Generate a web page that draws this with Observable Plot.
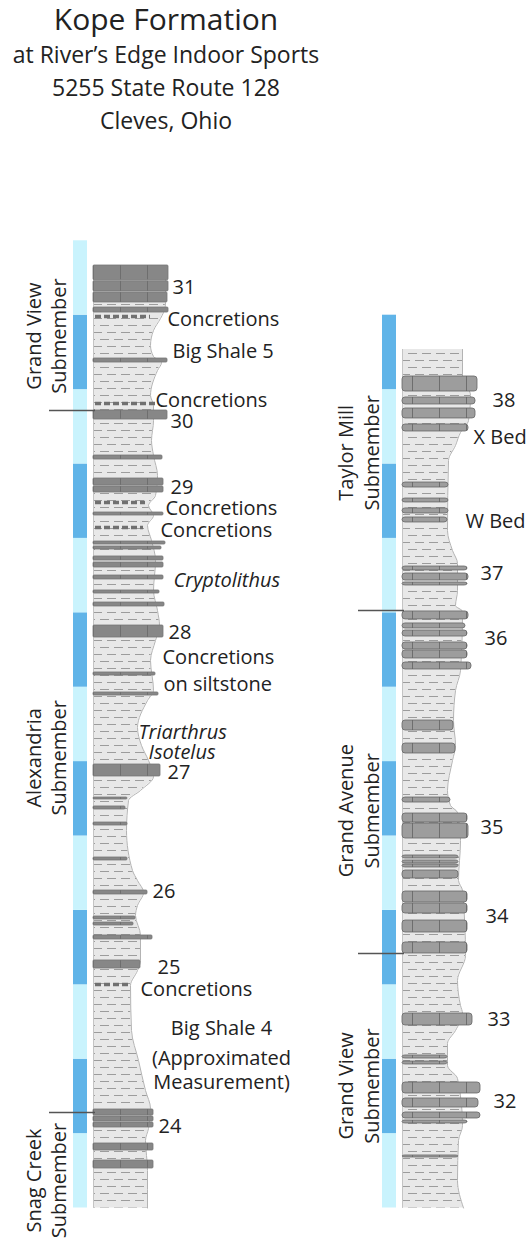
<!DOCTYPE html>
<html><head><meta charset="utf-8">
<script src="https://cdn.jsdelivr.net/npm/d3@7"></script>
<script src="https://cdn.jsdelivr.net/npm/@observablehq/plot@0.6"></script>
<style>
body{margin:0;background:#fff;font-family:"Open Sans",sans-serif;color:#222}
#title{height:140px;width:332px;text-align:center;overflow:visible}
#title div{white-space:nowrap}
.t1{font-size:30px;line-height:37.5px}
.t2{font-size:23px;line-height:33px}
</style></head><body>
<div id="title"><div class="t1">Kope Formation</div><div class="t2">at River’s Edge Indoor Sports</div><div class="t2">5255 State Route 128</div><div class="t2">Cleves, Ohio</div></div>
<div id="chart"></div>
<script>
// ---------- data (metres above base of each column) ----------
const leftMeters = [0,1,2,3,4,5,6,7,8,9,10,11,12];
const rightMeters = [0,1,2,3,4,5,6,7,8,9,10,11];

// weathering profile of shale: [metre, profile width]
const leftProfile = [
[12.668,72],[12.171,72],[12.036,70],[11.956,67],[11.795,60],[11.593,57],[11.445,60],[11.364,68],[11.257,64],
[10.921,57],[10.786,60],[10.585,60],[10.316,58],[10.114,60],[9.845,64],[9.577,62],[9.442,55],[9.308,60],
[9.173,54],[8.972,58],[8.703,62],[8.300,60],[8.031,64],[7.829,66],[7.628,62],[7.359,57],[6.956,60],[6.821,54],
[6.458,44],[6.216,48],[6.015,55],[5.800,60],[5.612,47],[5.477,35],[5.074,33],[4.536,39],[4.402,44],[4.241,50],
[4.066,44],[3.932,42],[3.663,47],[3.327,47],[3.192,44],[2.991,37],[2.386,38],[1.983,45],[1.579,52],[1.337,57],
[1.069,55],[0.907,52],[0.504,54],[0,54]];
const rightProfile = [
[11.539,60],[11.176,60],[10.921,68],[10.585,66],[10.424,58],[10.249,53],[10.047,46],[9.106,45],[8.837,50],
[8.663,55],[8.300,55],[8.098,53],[8.018,60],[7.225,58],[6.956,53],[6.552,51],[6.216,53],[6.015,50],[5.612,45],
[5.410,48],[5.316,55],[4.940,58],[4.402,56],[4.267,60],[3.394,63],[3.058,55],[2.722,58],[2.614,60],[2.386,53],
[2.211,45],[1.915,45],[1.741,55],[1.109,60],[0.907,56],[0.370,55],[0,61]];

// limestone beds: [top, bottom, profile width]
const leftBeds = [
[12.668,12.470,75],[12.456,12.320,75],[12.306,12.171,74],[12.103,12.036,75],[11.418,11.364,74],[10.719,10.598,74],
[10.114,10.060,69],[9.805,9.711,70],[9.698,9.617,70],[9.348,9.308,70],[8.958,8.918,72],[8.891,8.851,68],
[8.757,8.703,70],[8.676,8.609,70],[8.501,8.448,70],[8.300,8.259,66],[8.138,8.085,71],[7.829,7.668,70],
[7.198,7.157,62],[6.929,6.888,65],[5.961,5.800,67],[5.517,5.491,34],[5.397,5.356,32],[5.181,5.141,34],
[4.711,4.671,34],[4.267,4.214,54],[3.918,3.878,42],[3.837,3.797,40],[3.663,3.609,59],[3.327,3.219,47],
[1.324,1.243,60],[1.230,1.163,60],[1.149,1.082,60],[0.867,0.773,60],[0.638,0.531,60]];
const rightBeds = [
[11.176,10.974,75],[10.894,10.800,73],[10.746,10.612,73],[10.531,10.437,66],[9.751,9.684,46],[9.536,9.483,46],
[9.403,9.335,46],[9.281,9.214,45],[8.622,8.569,65],[8.528,8.434,66],[8.407,8.367,65],[8.018,7.911,66],
[7.857,7.789,63],[7.762,7.681,65],[7.601,7.507,65],[7.494,7.386,65],[7.332,7.238,69],[6.552,6.418,51],
[6.243,6.109,53],[5.517,5.450,48],[5.302,5.181,65],[5.168,4.966,66],[4.738,4.698,56],[4.671,4.630,56],
[4.617,4.577,56],[4.536,4.429,56],[4.254,4.106,65],[4.093,3.958,65],[3.864,3.703,65],[3.569,3.421,65],
[2.614,2.453,70],[2.050,2.009,45],[1.969,1.929,45],[1.687,1.539,78],[1.472,1.351,76],[1.284,1.203,78],
[1.176,1.136,65],[0.706,0.679,56]];

// concretion horizons: [metre, extent]
const leftConcretions = [[11.983,57],[10.813,62],[9.483,52],[9.147,50],[3.004,37]];

// submember boundaries (metre)
const leftBoundaries = [10.719, 1.284];
const rightBoundaries = [8.031, 3.421];

// labels: [text, metre]
const leftLabels = [["31",12.372],["Concretions",11.942],["Big Shale 5",11.512],["Concretions",10.855],["30",10.575],
["29",9.684],["Concretions",9.402],["Concretions",9.106],["28",7.735],["Concretions",7.399],["on siltstone",7.036],
["27",5.853],["26",4.254],["25",3.233],["Concretions",2.937],["24",1.095]];
const leftLabelX = [172,167,172,155,170,170,165,160,168,162,163,167,152,157,140,158];
const italicLabels = [["Cryptolithus",8.434],["Triarthrus",6.385],["Isotelus",6.115]];
const italicLabelX = [173,138,148];
const noteLabels = [["Big Shale 4",2.413],["(Approximated",2.009],["Measurement)",1.687]];
const rightLabels = [["38",10.853],["X Bed",10.356],["W Bed",9.227],["37",8.528],["36",7.655],["35",5.114],
["34",3.918],["33",2.534],["32",1.431]];
const rightLabelX = [492,473,465,480,484,480,485,487,493];
const leftSubmembers = [["Grand View\nSubmember",11.72],["Alexandria\nSubmember",6.05],["Snag Creek\nSubmember",0.37]];
const rightSubmembers = [["Taylor Mill\nSubmember",10.15],["Grand Avenue\nSubmember",5.34],["Grand View\nSubmember",1.64]];

// ---------- layout ----------
const W = 528, H = 1101;
const LCOL = 93, RCOL = 402;
const CYAN = "#c9f3fd", BLUE = "#60b4e8";
const curve = "monotone-y";
const fs = 20;

const scaleBar = (meters, x1, x2) => Plot.rect(meters, {
  x1, x2, y1: d => d, y2: d => d + 1, fill: d => d % 2 ? BLUE : CYAN
});
const shale = (prof, x0) => [
  Plot.areaX(prof, {y: d => d[0], x1: x0, x2: d => x0 + d[1], fill: "url(#shalePat)", curve}),
  Plot.lineX(prof, {y: d => d[0], x: d => x0 + d[1], stroke: "#b3b3b3", strokeWidth: 1, curve}),
  Plot.ruleX([x0], {y1: 0, y2: prof[0][0], stroke: "#c4c4c4", strokeWidth: 1})
];
const beds = (list, x0, pat, rx, stroke) => Plot.rect(list, {
  x1: x0, x2: d => x0 + d[2], y1: d => d[0], y2: d => d[1],
  fill: `url(#${pat})`, stroke, strokeWidth: 0.8, rx
});

const svg = Plot.plot({
  width: W, height: H, marginTop: 0, marginBottom: 0, marginLeft: 0, marginRight: 0,
  x: {domain: [0, W], range: [0, W], axis: null},
  y: {domain: [-33.5 / 74.4, 1067.5 / 74.4], range: [H, 0], axis: null},
  style: {fontFamily: "Open Sans", background: "white", overflow: "visible"},
  marks: [
    scaleBar(leftMeters, 73, 87),
    scaleBar(rightMeters, 382, 396),
    ...shale(leftProfile, LCOL),
    ...shale(rightProfile, RCOL),
    beds(leftBeds, LCOL, "limeL", 1, "#767676"),
    beds(rightBeds, RCOL, "limeR", 3, "#666"),
    Plot.ruleY(leftConcretions, {y: d => d[0], x1: LCOL + 2, x2: d => LCOL + d[1], stroke: "#707070",
      strokeWidth: 3.5, strokeDasharray: "6 3"}),
    Plot.ruleY(leftBoundaries, {x1: 49, x2: LCOL + 2, stroke: "#555", strokeWidth: 1.4}),
    Plot.ruleY(rightBoundaries, {x1: 358, x2: RCOL + 2, stroke: "#555", strokeWidth: 1.4}),
    Plot.text(leftLabels, {x: (d, i) => leftLabelX[i], y: d => d[1], text: d => d[0], textAnchor: "start",
      lineAnchor: "middle", fontSize: fs, fill: "#222"}),
    Plot.text(italicLabels, {x: (d, i) => italicLabelX[i], y: d => d[1], text: d => d[0], textAnchor: "start",
      lineAnchor: "middle", fontSize: fs, fontStyle: "italic", fill: "#222"}),
    Plot.text(noteLabels, {x: 221, y: d => d[1], text: d => d[0], textAnchor: "middle",
      lineAnchor: "middle", fontSize: fs, fill: "#222"}),
    Plot.text(rightLabels, {x: (d, i) => rightLabelX[i], y: d => d[1], text: d => d[0], textAnchor: "start",
      lineAnchor: "middle", fontSize: fs, fill: "#222"}),
    Plot.text(leftSubmembers, {x: 45, y: d => d[1], text: d => d[0], rotate: -90, textAnchor: "middle",
      lineAnchor: "middle", lineHeight: 1.25, fontSize: fs, fill: "#222"}),
    Plot.text(rightSubmembers, {x: 357, y: d => d[1], text: d => d[0], rotate: -90, textAnchor: "middle",
      lineAnchor: "middle", lineHeight: 1.3, fontSize: fs, fill: "#222"})
  ]
});

// patterns for lithology fills
const ns = "http://www.w3.org/2000/svg";
const defs = document.createElementNS(ns, "defs");
defs.innerHTML = `
<pattern id="shalePat" patternUnits="userSpaceOnUse" width="28" height="14">
  <rect width="28" height="14" fill="#e8e8e8"/>
  <path d="M2 3.5H11M16 3.5H25M9 10.5H18M23 10.5H28M0 10.5H4" stroke="#9c9c9c" stroke-width="1.1"/>
</pattern>
<pattern id="limeL" patternUnits="userSpaceOnUse" x="${LCOL}" width="27" height="1200">
  <rect width="27" height="1200" fill="#878787"/>
  <path d="M0.5 0V1200" stroke="#6e6e6e" stroke-width="1"/>
</pattern>
<pattern id="limeR" patternUnits="userSpaceOnUse" x="${RCOL + 10}" width="27" height="1200">
  <rect width="27" height="1200" fill="#9d9d9d"/>
  <path d="M0.5 0V1200" stroke="#6e6e6e" stroke-width="1"/>
</pattern>`;
svg.insertBefore(defs, svg.firstChild);
document.getElementById("chart").appendChild(svg);
</script>
</body></html>
